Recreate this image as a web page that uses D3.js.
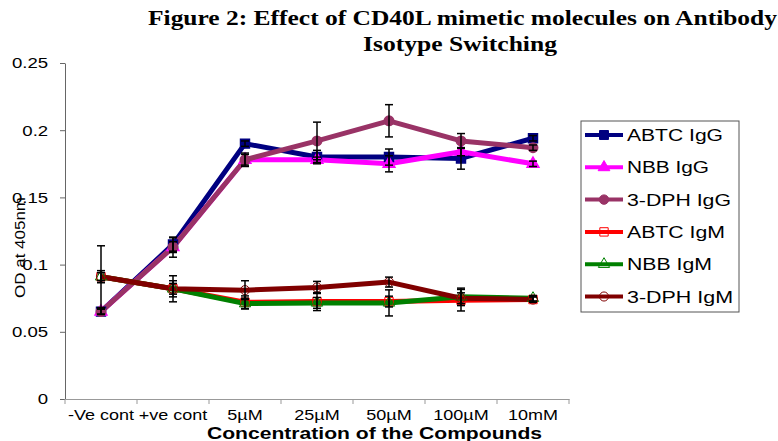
<!DOCTYPE html>
<html>
<head>
<meta charset="utf-8">
<script src="https://cdn.jsdelivr.net/npm/d3@7"></script>
<style>
  body { margin: 0; background: #fff; }
  svg { display: block; font-family: "Liberation Sans", Arial, sans-serif; }
</style>
</head>
<body>
<svg id="chart" width="778" height="441"></svg>
<script>
const categories = ["-Ve cont", "+ve cont", "5µM", "25µM", "50µM", "100µM", "10mM"];
const yTicks = [0, 0.05, 0.1, 0.15, 0.2, 0.25];
const yTickLabels = ["0", "0.05", "0.1", "0.15", "0.2", "0.25"];
const seriesNames = ["ABTC IgG", "NBB IgG", "3-DPH IgG", "ABTC IgM", "NBB IgM", "3-DPH IgM"];

const abtcIgG = [0.065, 0.115, 0.190, 0.180, 0.180, 0.179, 0.194];
const nbbIgG = [0.065, 0.113, 0.178, 0.178, 0.175, 0.184, 0.175];
const dphIgG = [0.065, 0.113, 0.178, 0.192, 0.207, 0.192, 0.187];
const abtcIgM = [0.091, 0.082, 0.072, 0.0725, 0.0725, 0.0735, 0.074];
const nbbIgM = [0.091, 0.082, 0.071, 0.0715, 0.0715, 0.076, 0.075];
const dphIgM = [0.091, 0.082, 0.081, 0.083, 0.087, 0.075, 0.074];

// error bar half-widths
const abtcIgGErr = [0.002, 0.005, 0.002, 0.005, 0.006, 0.008, 0.002];
const nbbIgGErr = [0.002, 0.0075, 0.005, 0.002, 0.006, 0.003, 0.002];
const dphIgGErr = [0.002, 0.004, 0.004, 0.014, 0.012, 0.0055, 0.002];
const abtcIgMErr = [0.023, 0.0097, 0.0047, 0.0067, 0.004, 0.008, 0.002];
const nbbIgMErr = [0.0045, 0.006, 0.004, 0.004, 0.0097, 0.0065, 0.002];
const dphIgMErr = [0.003, 0.004, 0.007, 0.0045, 0.0037, 0.004, 0.002];

const svg = d3.select("#chart");
const plotLeft = 65, plotRight = 569, plotTop = 63, plotBottom = 399;

const series = [
  {name: seriesNames[0], values: abtcIgG, err: abtcIgGErr, color: "#000080", shape: d3.symbolSquare, size: 80, open: false},
  {name: seriesNames[1], values: nbbIgG, err: nbbIgGErr, color: "#ff00ff", shape: d3.symbolTriangle, size: 60, open: false},
  {name: seriesNames[2], values: dphIgG, err: dphIgGErr, color: "#993366", shape: d3.symbolCircle, size: 70, open: false},
  {name: seriesNames[3], values: abtcIgM, err: abtcIgMErr, color: "#ff0000", shape: d3.symbolSquare, size: 70, open: true},
  {name: seriesNames[4], values: nbbIgM, err: nbbIgMErr, color: "#008000", shape: d3.symbolTriangle, size: 55, open: true},
  {name: seriesNames[5], values: dphIgM, err: dphIgMErr, color: "#800000", shape: d3.symbolCircle, size: 65, open: true}
];

const x = d3.scaleBand().domain(categories).range([plotLeft, plotRight]);
const y = d3.scaleLinear().domain([0, 0.25]).range([plotBottom, plotTop]);
const cx = d => x(d) + x.bandwidth() / 2;

// title
const title = svg.append("g")
  .attr("font-family", "'Liberation Serif', 'Times New Roman', serif")
  .attr("font-weight", "bold").attr("font-size", 21);
title.append("text").attr("x", 148).attr("y", 25)
  .attr("textLength", 629).attr("lengthAdjust", "spacingAndGlyphs")
  .text("Figure 2:  Effect of CD40L mimetic molecules on Antibody");
title.append("text").attr("x", 363).attr("y", 51)
  .attr("textLength", 194).attr("lengthAdjust", "spacingAndGlyphs")
  .text("Isotype Switching");

// y axis
const yAxis = svg.append("g")
  .attr("transform", `translate(${plotLeft},0)`)
  .call(d3.axisLeft(y).tickValues(yTicks).tickFormat((d, i) => yTickLabels[i]).tickSize(5).tickSizeOuter(0));
yAxis.select(".domain").attr("stroke", "#666");
yAxis.selectAll(".tick line").attr("stroke", "#666");
yAxis.selectAll(".tick text")
  .attr("font-size", 15.5).attr("fill", "#000")
  .attr("x", -14)
  .attr("transform", "scale(1.2,1)");

// x axis
const xAxis = svg.append("g")
  .attr("transform", `translate(0,${plotBottom})`)
  .call(d3.axisBottom(x).tickSize(0).tickSizeOuter(0));
xAxis.select(".domain").attr("stroke", "#999");
xAxis.selectAll(".tick text")
  .attr("font-size", 15).attr("fill", "#000")
  .attr("y", 21).attr("dy", 0)
  .attr("transform", "scale(1.2,1)");
// boundary ticks
svg.append("g").selectAll("line")
  .data(d3.range(categories.length + 1))
  .join("line")
  .attr("x1", i => plotLeft + i * x.bandwidth())
  .attr("x2", i => plotLeft + i * x.bandwidth())
  .attr("y1", plotBottom).attr("y2", plotBottom + 5)
  .attr("stroke", "#999");

// axis titles
svg.append("text")
  .attr("x", 207).attr("y", 439)
  .attr("font-size", 16).attr("font-weight", "bold")
  .attr("textLength", 335).attr("lengthAdjust", "spacingAndGlyphs")
  .text("Concentration of the Compounds");

svg.append("text")
  .attr("transform", "translate(25,298) rotate(-90)")
  .attr("font-size", 15)
  .attr("textLength", 101).attr("lengthAdjust", "spacingAndGlyphs")
  .text("OD at 405nm");

// lines
const line = d3.line().x((d, i) => cx(categories[i])).y(d => y(d));
const plot = svg.append("g");
series.forEach(s => {
  plot.append("path")
    .attr("d", line(s.values))
    .attr("fill", "none")
    .attr("stroke", s.color)
    .attr("stroke-width", 5)
    .attr("stroke-linejoin", "round");
});
series.forEach(s => {
  plot.append("g").selectAll("path")
    .data(s.values)
    .join("path")
    .attr("transform", (d, i) => `translate(${cx(categories[i])},${y(d)})`)
    .attr("d", d3.symbol().type(s.shape).size(s.size))
    .attr("fill", s.open ? "none" : s.color)
    .attr("stroke", s.color)
    .attr("stroke-width", s.open ? 1 : 1.5);
});

// error bars
series.forEach(s => {
  const g = plot.append("g").attr("stroke", "#000").attr("stroke-width", 1.5);
  s.values.forEach((v, i) => {
    const px = cx(categories[i]);
    const y0 = y(v - s.err[i]), y1 = y(v + s.err[i]);
    g.append("line").attr("x1", px).attr("x2", px).attr("y1", y0).attr("y2", y1);
    g.append("line").attr("x1", px - 4).attr("x2", px + 4).attr("y1", y0).attr("y2", y0);
    g.append("line").attr("x1", px - 4).attr("x2", px + 4).attr("y1", y1).attr("y2", y1);
  });
});

// legend
const legend = svg.append("g");
legend.append("rect")
  .attr("x", 581).attr("y", 121).attr("width", 158).attr("height", 191)
  .attr("fill", "#fff").attr("stroke", "#555").attr("stroke-width", 1);
const legendWidths = [96, 82, 104, 98, 85, 106];
series.forEach((s, i) => {
  const ly = 135 + i * 32.3;
  legend.append("line")
    .attr("x1", 585).attr("x2", 623).attr("y1", ly).attr("y2", ly)
    .attr("stroke", s.color).attr("stroke-width", 4);
  legend.append("path")
    .attr("transform", `translate(604,${ly})`)
    .attr("d", d3.symbol().type(s.shape).size(s.size))
    .attr("fill", s.open ? "none" : s.color)
    .attr("stroke", s.color).attr("stroke-width", 1);
  legend.append("text")
    .attr("x", 627).attr("y", ly + 6)
    .attr("font-size", 17)
    .attr("textLength", legendWidths[i]).attr("lengthAdjust", "spacingAndGlyphs")
    .text(s.name);
});
</script>
</body>
</html>
